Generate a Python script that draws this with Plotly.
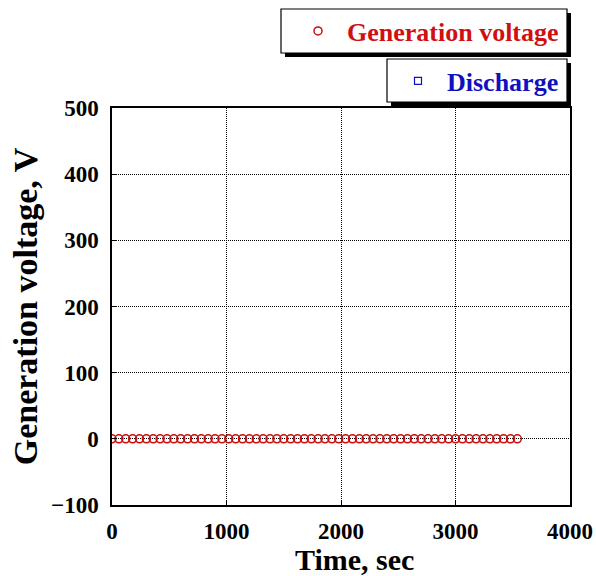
import plotly.graph_objects as go

time_sec = [0, 60, 120, 180, 240, 300, 360, 420, 480, 540,
            600, 660, 720, 780, 840, 900, 960, 1020, 1080, 1140,
            1200, 1260, 1320, 1380, 1440, 1500, 1560, 1620, 1680, 1740,
            1800, 1860, 1920, 1980, 2040, 2100, 2160, 2220, 2280, 2340,
            2400, 2460, 2520, 2580, 2640, 2700, 2760, 2820, 2880, 2940,
            3000, 3060, 3120, 3180, 3240, 3300, 3360, 3420, 3480, 3540]
generation_voltage = [0, 0, 0, 0, 0, 0, 0, 0, 0, 0,
                      0, 0, 0, 0, 0, 0, 0, 0, 0, 0,
                      0, 0, 0, 0, 0, 0, 0, 0, 0, 0,
                      0, 0, 0, 0, 0, 0, 0, 0, 0, 0,
                      0, 0, 0, 0, 0, 0, 0, 0, 0, 0,
                      0, 0, 0, 0, 0, 0, 0, 0, 0, 0]
discharge_time = [None]
discharge_voltage = [None]

x_ticks = [0, 1000, 2000, 3000, 4000]
y_ticks = [-100, 0, 100, 200, 300, 400, 500]

FONT = "Liberation Serif"
W, H = 596, 576
L, T = 112, 108
PW = 570 - L
PH = 505 - T
R = W - L - PW
B = H - T - PH


def px(x):
    return (x - L) / PW


def py(y):
    return (T + PH - y) / PH


fig = go.Figure()
fig.add_trace(go.Scatter(
    x=time_sec, y=generation_voltage, mode="markers", name="Generation voltage",
    marker=dict(symbol="circle-open", size=8, color="#c80c0c", line=dict(width=1.5)),
    legend="legend", showlegend=True,
))
fig.add_trace(go.Scatter(
    x=discharge_time, y=discharge_voltage, mode="markers", name="Discharge",
    marker=dict(symbol="square-open", size=7, color="#1010c0", line=dict(width=1.2)),
    legend="legend2", showlegend=True,
))

shapes = []
for (x0, y0, x1, y1) in [(281, 9, 567, 53), (387, 59, 567, 102)]:
    shapes.append(dict(type="rect", xref="paper", yref="paper",
                       x0=px(x0 + 4), x1=px(x1 + 4), y0=py(y1 + 4), y1=py(y0 + 4),
                       fillcolor="black", line=dict(width=0), layer="below"))
    shapes.append(dict(type="rect", xref="paper", yref="paper",
                       x0=px(x0), x1=px(x1), y0=py(y1), y1=py(y0),
                       fillcolor="white", line=dict(color="black", width=1.2), layer="below"))

axis_common = dict(
    showline=True, mirror=True, linecolor="black", linewidth=1.5,
    ticks="inside", ticklen=5, tickcolor="black",
    showgrid=True, gridcolor="black", griddash="1px,1px", gridwidth=1,
    zeroline=False, automargin=False,
    tickfont=dict(family=FONT, size=23, color="black", weight="bold"),
)

fig.update_layout(
    width=W, height=H,
    margin=dict(l=L, r=R, t=T, b=B, autoexpand=False),
    paper_bgcolor="white", plot_bgcolor="white",
    font=dict(family=FONT, color="black"),
    shapes=shapes,
    showlegend=True,
    xaxis=dict(range=[0, 4000], tickvals=x_ticks, ticklabelstandoff=5, **axis_common),
    yaxis=dict(range=[-100, 500], tickvals=y_ticks, ticklabelstandoff=7,
               title=dict(text="<b>Generation voltage, V</b>", font=dict(family=FONT, size=34), standoff=3),
               **axis_common),
    annotations=[dict(text="<b>Time, sec</b>", xref="paper", yref="paper",
                      x=px(354), y=py(559), xanchor="center", yanchor="middle",
                      showarrow=False, font=dict(family=FONT, size=30, color="black"))],
    legend=dict(x=px(564), y=py(31), xanchor="right", yanchor="middle", itemwidth=48,
                bgcolor="rgba(0,0,0,0)", borderwidth=0,
                font=dict(family=FONT, size=26, color="#d01010", weight="bold")),
    legend2=dict(x=px(564), y=py(81), xanchor="right", yanchor="middle", itemwidth=48,
                 bgcolor="rgba(0,0,0,0)", borderwidth=0,
                 font=dict(family=FONT, size=26, color="#1010c0", weight="bold")),
)

fig.write_html("out.html", config={"displayModeBar": False},
               post_script="document.body.style.margin='0';document.body.style.overflow='hidden';")
